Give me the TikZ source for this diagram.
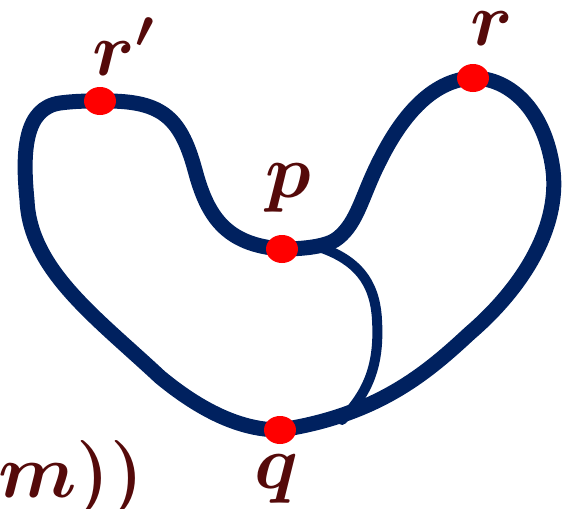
\RequirePackage{fix-cm}
\documentclass[tikz,border=0pt]{standalone}
\usepackage{amsmath}
\usepackage{tikz}
\usetikzlibrary{shapes.geometric}
\usepackage{xcolor}
\definecolor{loopnavy}{HTML}{00215F}
\definecolor{labelbrown}{HTML}{550A0A}
\definecolor{pointred}{HTML}{FF0000}
\tikzset{
  outerloop/.style={
    draw=loopnavy,
    line width=7.5pt,
    line cap=round,
    line join=round
  },
  innerarc/.style={
    draw=loopnavy,
    line width=5pt,
    line cap=round
  },
  pointdot/.style={
    ellipse,
    fill=pointred,
    inner sep=0pt,
    minimum width=16pt,
    minimum height=14pt
  },
  pointlabel/.style={
    anchor=base,
    inner sep=0pt,
    text=labelbrown,
    font=\fontsize{38}{44}\selectfont
  }
}

\begin{document}
\begin{tikzpicture}[x=0.5pt, y=-0.5pt]
\useasboundingbox (0,0) rectangle (563,509);
% points on the loop
\coordinate (rprime) at (100,101);
\coordinate (pp) at (282,249);
\coordinate (rr) at (473,78);
\coordinate (qq) at (280,430);
\coordinate (cusp) at (338,238);
% outer loop
\draw[outerloop] (rprime) .. controls (160,100) and (180,115) .. (195,170)
  .. controls (207,215) and (225,245) .. (pp)
  .. controls (310,249) and (330,245) .. (cusp)
  .. controls (358,222) and (362,195) .. (380,160)
  .. controls (400,120) and (430,80) .. (rr)
  .. controls (510,78) and (545,110) .. (553,170)
  .. controls (560,230) and (520,290) .. (470,333)
  .. controls (430,370) and (380,415) .. (qq)
  .. controls (240,430) and (200,410) .. (160,377)
  .. controls (97,318) and (30,270) .. (27,200)
  .. controls (22,150) and (25,108) .. (60,103)
  .. controls (75,101) and (88,101) .. (rprime) -- cycle;
% inner arc
\coordinate (arcstart) at (322,248);
\coordinate (arcend) at (342,420);
\draw[innerarc] (arcstart) .. controls (355,260) and (375,280) .. (377,320)
  .. controls (380,370) and (365,395) .. (arcend);
% dots
\node[pointdot] (dotrprime) at (rprime) {};
\node[pointdot] (dotp) at (pp) {};
\node[pointdot] (dotr) at (rr) {};
\node[pointdot] (dotq) at (qq) {};
% labels
\node[pointlabel, anchor=base west] (labrprime) at (92,75) {$\boldsymbol{r'}$};
\node[pointlabel] (labp) at (288,197) {$\boldsymbol{p}$};
\node[pointlabel] (labr) at (492,45) {$\boldsymbol{r}$};
\node[pointlabel] (labq) at (277,488) {$\boldsymbol{q}$};
\node[pointlabel, anchor=base west] (labm) at (-2,497) {$\boldsymbol{m))}$};
\end{tikzpicture}
\end{document}
